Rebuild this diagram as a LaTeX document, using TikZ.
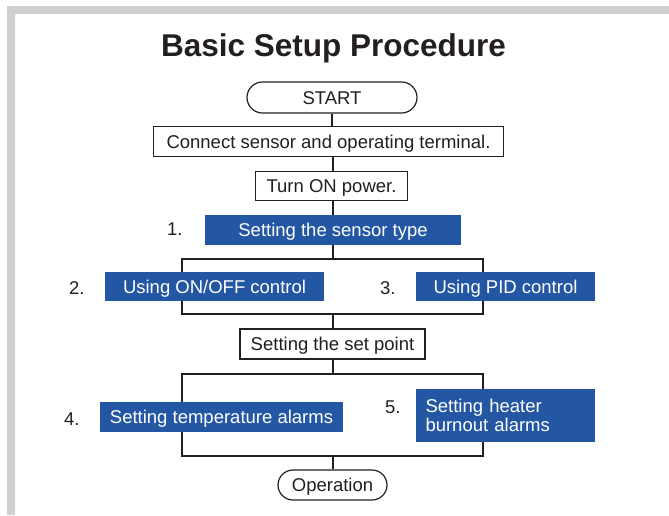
\documentclass[tikz,border=0pt]{standalone}
\usepackage{fontspec}
\setmainfont{Liberation Sans}
\usetikzlibrary{shapes.misc,backgrounds}
\definecolor{framegrey}{HTML}{CFD0D2}
\definecolor{bluebox}{HTML}{2457A3}
\definecolor{ink}{HTML}{231F20}
\begin{document}
\begin{tikzpicture}[x=1pt,y=-1pt,
  txt/.style={font=\fontsize{18.5}{22}\selectfont, text=ink},
  wbox/.style={txt, draw=ink, line width=1.2pt, fill=white, inner sep=0pt, text height=13pt, text depth=0pt},
  bbox/.style={txt, fill=bluebox, text=white, inner sep=0pt, text height=13pt, text depth=0pt},
  bboxml/.style={font=\fontsize{18.5}{18.3}\selectfont, fill=bluebox, text=white, inner ysep=0pt, inner xsep=9.5pt, align=left, text width=160pt},
  term/.style={txt, draw=ink, line width=1.2pt, fill=white, rounded rectangle, inner sep=0pt, text height=13pt, text depth=0pt},
  num/.style={txt, anchor=base west, inner sep=0pt},
  conn/.style={draw=ink, line width=1.3pt}]
\useasboundingbox (0,0) rectangle (669,515);
\fill[framegrey] (7,6) -- (669,6) -- (669,14) -- (15,14) -- (15,515) -- (7,515) -- cycle;

\node[anchor=base, inner sep=0pt, text=ink, font=\bfseries\fontsize{31.5}{36}\selectfont] (title) at (333.5,56) {Basic Setup Procedure};

\node[term, minimum width=170pt, minimum height=31pt] (start) at (332,97.5) {START};
\node[wbox, minimum width=350pt, minimum height=30pt] (connect) at (328.5,141.5) {Connect sensor and operating terminal.};
\node[wbox, minimum width=151.5pt, minimum height=29.5pt] (power) at (331.5,186) {Turn ON power.};
\node[bbox, minimum width=256pt, minimum height=30pt] (sensor) at (333,230) {Setting the sensor type};
\node[bbox, minimum width=219pt, minimum height=29pt] (onoff) at (214.5,286.5) {Using ON/OFF control};
\node[bbox, minimum width=179pt, minimum height=29pt] (pid) at (505.5,286.5) {Using PID control};
\node[wbox, minimum width=185pt, minimum height=30pt] (setpoint) at (332.5,344) {Setting the set point};
\node[bbox, minimum width=243pt, minimum height=30pt] (temp) at (221.5,417) {Setting temperature alarms};
\node[bboxml, minimum height=53pt] (heater) at (505.5,415.5) {Setting heater\\burnout alarms};
\node[term, minimum width=109pt, minimum height=30pt] (oper) at (332.5,485) {Operation};

\node[num] (n1) at (167,235) {1.};
\node[num] (n2) at (69,294.7) {2.};
\node[num] (n3) at (380,294.7) {3.};
\node[num] (n4) at (64,425) {4.};
\node[num] (n5) at (385,413) {5.};

\coordinate (b1tl) at (182,259);
\coordinate (b1tr) at (483,259);
\coordinate (b1br) at (483,314);
\coordinate (b1bl) at (182,314);
\coordinate (b1m) at (333,314);
\coordinate (b2tl) at (182,374);
\coordinate (b2tr) at (483,374);
\coordinate (b2br) at (483,456);
\coordinate (b2bl) at (182,456);
\coordinate (b2t) at (333,374);
\coordinate (b2b) at (333,456);

\begin{pgfonlayer}{background}
\draw[conn] (start.south) -- (start.south |- connect.north);
\draw[conn] (sensor.north |- connect.south) -- (sensor.north |- power.north);
\draw[conn] (sensor.north |- power.south) -- (sensor.north);
\draw[conn] (sensor.south) -- (sensor.south |- b1tl);
\draw[conn] (b1tl) -- (b1tr) -- (b1br) -- (b1bl) -- cycle;
\draw[conn] (b1m) -- (b1m |- setpoint.north);
\draw[conn] (b2t |- setpoint.south) -- (b2t);
\draw[conn] (b2tl) -- (b2tr) -- (b2br) -- (b2bl) -- cycle;
\draw[conn] (b2b) -- (b2b |- oper.north);
\end{pgfonlayer}
\end{tikzpicture}
\end{document}
